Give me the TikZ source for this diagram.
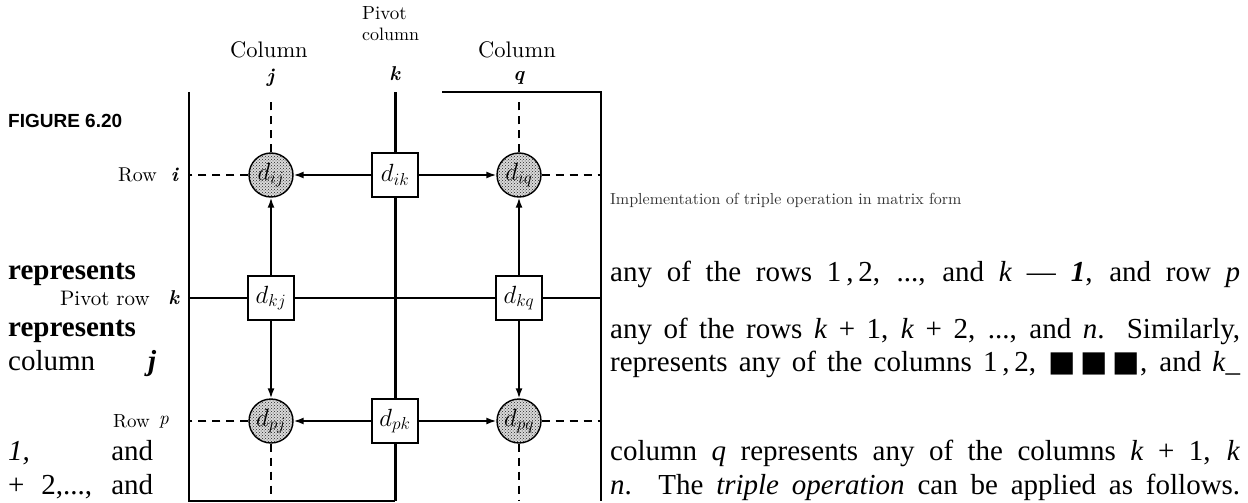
\documentclass[tikz,border=0pt]{standalone}
\usepackage{fontspec}
\newfontfamily\labfont{lmroman10-regular}[Extension=.otf,BoldFont=lmroman10-bold,ItalicFont=lmroman10-italic,BoldItalicFont=lmroman10-bolditalic]
\newfontfamily\bodyfont{Liberation Serif}
\newfontfamily\figfont{Liberation Sans}
\newfontfamily\symfont{DejaVu Sans}
\usetikzlibrary{arrows.meta,patterns}

\newcommand{\fsz}[1]{\fontsize{#1}{#1}\selectfont}

\begin{document}
\begin{tikzpicture}[x=1pt,y=-1pt,
  frame/.style={line width=1.6pt},
  guide/.style={line width=1.4pt,dash pattern=on 8pt off 6pt},
  pivot/.style={line width=3pt},
  flow/.style={line width=1.6pt,-{Latex[length=10pt,width=7pt]}},
  elem/.style={draw,line width=1.4pt,fill=white,minimum width=46pt,minimum height=44pt,inner sep=0pt,font=\fsz{24}},
  upd/.style={draw,circle,line width=1.4pt,minimum size=44pt,inner sep=0pt,preaction={fill=black!15},pattern=crosshatch dots,pattern color=black!85,font=\fsz{24}},
  lab/.style={inner sep=0pt,font=\labfont\fsz{20}},
  body/.style={inner sep=0pt,anchor=west,font=\bodyfont\fsz{29}}]
\useasboundingbox (0,0) rectangle (1248,503);

\coordinate (tl) at (189,92);
\coordinate (tr) at (601,92);
\coordinate (bl) at (189,501);
\coordinate (br) at (601,501);
\coordinate (tc) at (442,92);
\coordinate (bc) at (395,501);
\coordinate (jtop) at (271,97);

\node[upd] (cij) at (271,175) {$d_{ij}$};
\node[elem] (bik) at (395,175) {$d_{ik}$};
\node[upd] (ciq) at (519,175) {$d_{iq}$};
\node[elem] (bkj) at (271,298) {$d_{kj}$};
\node[elem] (bkq) at (519,298) {$d_{kq}$};
\node[upd] (cpj) at (271,421) {$d_{pj}$};
\node[elem] (bpk) at (395,421) {$d_{pk}$};
\node[upd] (cpq) at (519,421) {$d_{pq}$};

\draw[frame] (tl) -- (bl) -- (bc);
\draw[frame] (tc) -- (tr) -- (br);
\draw[pivot] (bik.north) -- (bik.north |- tl) (bik.south) -- (bpk.north) (bpk.south) -- (bc);
\draw[frame] (bkj.west -| tl) -- (bkj.west) (bkj.east) -- (bkq.west) (bkq.east) -- (bkq.east -| tr);

\draw[guide] (cij.west) -- (cij.west -| tl) (ciq.east) -- (ciq.east -| tr);
\draw[guide] (cpj.west) -- (cpj.west -| tl) (cpq.east) -- (cpq.east -| tr);
\draw[guide] (cij.north) -- (jtop) (ciq.north) -- (ciq.north |- jtop);
\draw[guide] (cpj.south) -- (cpj.south |- bl) (cpq.south) -- (cpq.south |- bl);

\draw[flow] (bik) -- (cij);
\draw[flow] (bik) -- (ciq);
\draw[flow] (bkj) -- (cij);
\draw[flow] (bkj) -- (cpj);
\draw[flow] (bkq) -- (ciq);
\draw[flow] (bkq) -- (cpq);
\draw[flow] (bpk) -- (cpj);
\draw[flow] (bpk) -- (cpq);

\node[lab,anchor=west,font=\labfont\fsz{19}] (pvt) at (362,13) {Pivot};
\node[lab,anchor=west,font=\labfont\fsz{18}] (pcol) at (362,34) {column};
\node[lab,font=\labfont\fsz{22.5}] (colj) at (269,50) {Column};
\node[lab,font=\labfont\fsz{22.5}] (colq) at (517,50) {Column};
\node[lab] (labj) at (271,78) {\textbf{\textit{j}}};
\node[lab] (labk) at (395,74) {\textbf{\textit{k}}};
\node[lab] (labq) at (519,78) {\textbf{\textit{q}}};
\node[lab,anchor=east] (rowi) at (157,175) {Row};
\node[lab] (labi) at (175,175) {\textbf{\textit{i}}};
\node[lab,anchor=east,font=\labfont\fsz{21}] (prow) at (150,298) {Pivot row};
\node[lab] (labkr) at (174,298) {\textbf{\textit{k}}};
\node[lab,anchor=east,font=\labfont\fsz{19}] (rowp) at (150,421) {Row};
\node[lab,font=\labfont\fsz{19}] (labp) at (164,422) {\textit{p}};

\node[anchor=west,inner sep=0pt,font=\figfont\bfseries\fsz{19}] (fig) at (8,121) {FIGURE 6.20};
\node[anchor=west,inner sep=0pt,text=black!80,font=\labfont\fsz{16}] (capt) at (610,200) {Implementation of triple operation in matrix form};

\node[body,font=\bodyfont\bfseries\fsz{29}] (l1) at (8,274) {represents};
\node[body,font=\bodyfont\bfseries\fsz{29}] (l2) at (8,331) {represents};
\node[body] (l3) at (8,364) {\makebox[148pt][s]{column \textbf{\textit{j}}}};
\node[body] (l4) at (8,453) {\makebox[145pt][s]{\textit{1,} and}};
\node[body] (l5) at (8,487) {\makebox[145pt][s]{+ 2,..., and}};

\node[body] (r1) at (610,274) {\makebox[630pt][s]{any of the rows 1\,,\,2, ..., and \textit{k} — \textbf{\textit{1}}, and row \textit{p}}};
\node[body] (r2) at (610,331) {\makebox[630pt][s]{any of the rows \textit{k} + 1, \textit{k} + 2, ..., and \textit{n}. Similarly,}};
\node[body] (r3) at (610,364) {\makebox[630pt][s]{represents any of the columns 1\,,\,2, {\symfont ■\,■\,■}, and \textit{k}\_}};
\node[body] (r4) at (610,453) {\makebox[630pt][s]{column \textit{q} represents any of the columns \textit{k} + 1, \textit{k}}};
\node[body] (r5) at (610,487) {\makebox[630pt][s]{\textit{n}. The \textit{triple operation} can be applied as follows.}};
\end{tikzpicture}
\end{document}
